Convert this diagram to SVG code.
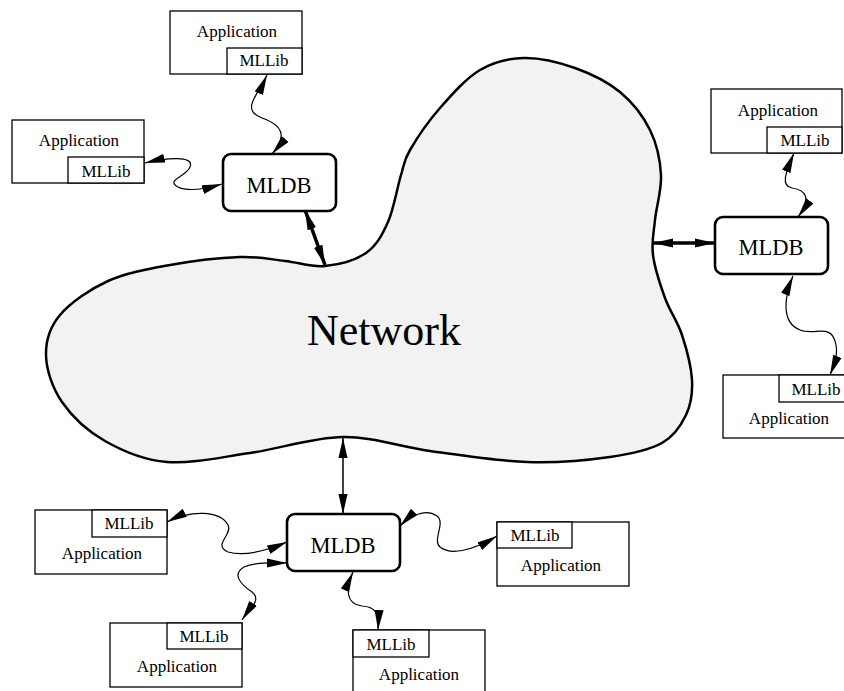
<svg xmlns="http://www.w3.org/2000/svg" width="844" height="691" viewBox="0 0 844 691" font-family="Liberation Serif, Times New Roman, serif">
<style>
.app{fill:#fff;stroke:#000;stroke-width:1.3}
.db{fill:#fff;stroke:#000;stroke-width:2.6}
.w{fill:none;stroke:#000;stroke-width:1.2;marker-start:url(#ah);marker-end:url(#ah)}
.thick{fill:none;stroke:#000;stroke-width:3.5;marker-start:url(#ah2);marker-end:url(#ah2)}
.thin{fill:none;stroke:#000;stroke-width:1.5;marker-start:url(#ah);marker-end:url(#ah)}
</style>
<defs>
<marker id="ah" markerUnits="userSpaceOnUse" markerWidth="20" markerHeight="10" refX="20" refY="5" orient="auto-start-reverse" viewBox="0 0 20 10">
<path d="M0,0.5 L20,5 L0,9.5 z" fill="#000"/>
</marker>
<marker id="ah2" markerUnits="userSpaceOnUse" markerWidth="20" markerHeight="10" refX="20" refY="5" orient="auto-start-reverse" viewBox="0 0 20 10">
<path d="M0,0.5 L20,5 L0,9.5 z" fill="#000"/>
</marker>
</defs>

<g id="network">
<path d="M524,58 C539.8,57.7 559,62.3 575,68 C591,73.7 607.5,81.7 620,92 C632.5,102.3 643.2,116.2 650,130 C656.8,143.8 660.2,160 661,175 C661.8,190 656.3,206.7 655,220 C653.7,233.3 651.3,242 653,255 C654.7,268 660.2,284.7 665,298 C669.8,311.3 677.5,321.3 682,335 C686.5,348.7 691.3,366.7 692,380 C692.7,393.3 691,404.5 686,415 C681,425.5 674.7,436 662,443 C649.3,450 632.5,453.8 610,457 C587.5,460.2 557,463 527,462 C497,461 460.7,455.2 430,451 C399.3,446.8 373,436.7 343,437 C313,437.3 279.3,448.8 250,453 C220.7,457.2 191.2,464 167,462 C142.8,460 122.5,451 105,441 C87.5,431 71.8,416.3 62,402 C52.2,387.7 46.3,369.5 46,355 C45.7,340.5 49.7,327.3 60,315 C70.3,302.7 89.7,289.3 108,281 C126.3,272.7 148,269 170,265 C192,261 220.8,257.7 240,257 C259.2,256.3 270.8,259.5 285,261 C299.2,262.5 311.5,267.3 325,266 C338.5,264.7 355.5,260.3 366,253 C376.5,245.7 382.2,235 388,222 C393.8,209 397.3,187 401,175 C404.7,163 403.5,161.2 410,150 C416.5,138.8 428.3,121.3 440,108 C451.7,94.7 466,78.3 480,70 C494,61.7 508.2,58.3 524,58 Z" fill="#f2f2f2" stroke="#000" stroke-width="2.5"/>
<text x="384" y="345" font-family="Liberation Serif, serif" font-size="44" text-anchor="middle">Network</text>
</g>

<g id="connectors">
<path class="w" d="M267,75 C258,95 240,110 262,118 C285,126 286,138 272,154"/>
<path class="w" d="M145,163 C165,158 195,155 190,167 C186,177 165,180 178,187 C188,192 205,189 222,184"/>
<path class="thick" d="M305,210 L325,265"/>
<path class="thick" d="M653,243 L715,243"/>
<path class="w" d="M794,153 C786,172 780,186 792,188 C806,190 812,198 798,217"/>
<path class="w" d="M793,276 C785,295 780,322 800,330 C815,336 832,322 836,345 C838,355 834,365 830,375"/>
<path class="thin" d="M343,438 L343,514"/>
<path class="w" d="M167,522 C190,510 220,510 228,525 C233,535 212,545 228,552 C245,557 268,550 287,542"/>
<path class="w" d="M242,620 C250,608 262,600 252,592 C240,584 232,574 244,567 C255,562 270,563 287,563"/>
<path class="w" d="M353,572 C346,588 345,604 362,606 C375,607 379,612 378,630"/>
<path class="w" d="M400,526 C410,516 425,508 437,516 C446,523 432,540 440,547 C450,555 470,552 497,536"/>
</g>

<g id="mldb-topleft" font-family="Liberation Serif, serif" font-size="22.5" text-anchor="middle">
<rect class="db" x="223" y="154" width="113" height="57" rx="8"/>
<text x="279" y="193" font-family="Liberation Serif, serif">MLDB</text>
</g>
<g id="mldb-right" font-family="Liberation Serif, serif" font-size="22.5" text-anchor="middle">
<rect class="db" x="715" y="217" width="113" height="57" rx="8"/>
<text x="771" y="255" font-family="Liberation Serif, serif">MLDB</text>
</g>
<g id="mldb-bottom" font-family="Liberation Serif, serif" font-size="22.5" text-anchor="middle">
<rect class="db" x="287" y="514" width="113" height="57" rx="8"/>
<text x="343" y="553" font-family="Liberation Serif, serif">MLDB</text>
</g>

<g id="app-top" font-family="Liberation Serif, serif" font-size="17" text-anchor="middle">
<rect class="app" x="170" y="11" width="132" height="63"/>
<rect class="app" x="227" y="48" width="75" height="26"/>
<text x="237" y="37" font-family="Liberation Serif, serif">Application</text>
<text x="264" y="66" font-family="Liberation Serif, serif">MLLib</text>
</g>
<g id="app-left" font-family="Liberation Serif, serif" font-size="17" text-anchor="middle">
<rect class="app" x="12" y="120" width="132" height="63"/>
<rect class="app" x="68" y="157" width="76" height="26"/>
<text x="79" y="146" font-family="Liberation Serif, serif">Application</text>
<text x="106" y="177" font-family="Liberation Serif, serif">MLLib</text>
</g>
<g id="app-right-top" font-family="Liberation Serif, serif" font-size="17" text-anchor="middle">
<rect class="app" x="711" y="89" width="131" height="64"/>
<rect class="app" x="767" y="127" width="75" height="26"/>
<text x="778" y="116" font-family="Liberation Serif, serif">Application</text>
<text x="805" y="146" font-family="Liberation Serif, serif">MLLib</text>
</g>
<g id="app-right-bottom" font-family="Liberation Serif, serif" font-size="17" text-anchor="middle">
<rect class="app" x="723" y="375" width="132" height="63"/>
<rect class="app" x="779" y="375" width="76" height="27"/>
<text x="789" y="424" font-family="Liberation Serif, serif">Application</text>
<text x="816" y="395" font-family="Liberation Serif, serif">MLLib</text>
</g>
<g id="app-bottom-left" font-family="Liberation Serif, serif" font-size="17" text-anchor="middle">
<rect class="app" x="35" y="510" width="132" height="64"/>
<rect class="app" x="92" y="510" width="75" height="27"/>
<text x="129" y="529" font-family="Liberation Serif, serif">MLLib</text>
<text x="102" y="559" font-family="Liberation Serif, serif">Application</text>
</g>
<g id="app-bottom-left-lower" font-family="Liberation Serif, serif" font-size="17" text-anchor="middle">
<rect class="app" x="110" y="623" width="132" height="64"/>
<rect class="app" x="167" y="623" width="75" height="26"/>
<text x="204" y="642" font-family="Liberation Serif, serif">MLLib</text>
<text x="177" y="672" font-family="Liberation Serif, serif">Application</text>
</g>
<g id="app-bottom-center" font-family="Liberation Serif, serif" font-size="17" text-anchor="middle">
<rect class="app" x="353" y="630" width="132" height="70"/>
<rect class="app" x="353" y="630" width="76" height="27"/>
<text x="391" y="650" font-family="Liberation Serif, serif">MLLib</text>
<text x="419" y="680" font-family="Liberation Serif, serif">Application</text>
</g>
<g id="app-bottom-right" font-family="Liberation Serif, serif" font-size="17" text-anchor="middle">
<rect class="app" x="497" y="522" width="132" height="64"/>
<rect class="app" x="497" y="522" width="75" height="26"/>
<text x="535" y="541" font-family="Liberation Serif, serif">MLLib</text>
<text x="561" y="571" font-family="Liberation Serif, serif">Application</text>
</g>
</svg>
